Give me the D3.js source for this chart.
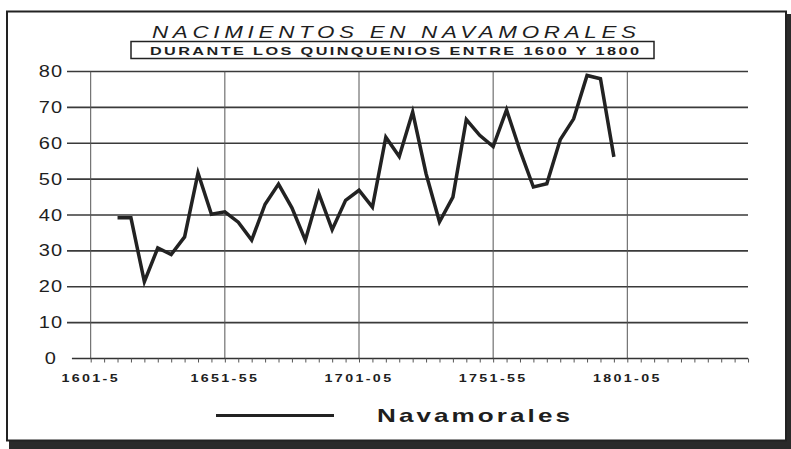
<!DOCTYPE html>
<html>
<head>
<meta charset="utf-8">
<script src="https://cdn.jsdelivr.net/npm/d3@7"></script>
<style>
  body { margin: 0; background: #fff; }
  text { font-family: "Liberation Sans", Arial, sans-serif; fill: #1e1e1e; }
</style>
</head>
<body>
<svg id="chart" width="791" height="449"></svg>
<script>
// quinquennia (first year of each 5-year period)
var years = [1611, 1616, 1621, 1626, 1631, 1636, 1641, 1646, 1651, 1656,
             1661, 1666, 1671, 1676, 1681, 1686, 1691, 1696, 1701, 1706,
             1711, 1716, 1721, 1726, 1731, 1736, 1741, 1746, 1751, 1756,
             1761, 1766, 1771, 1776, 1781, 1786, 1791, 1796];
var births = [39.2, 39.2, 21.4, 30.8, 29.0, 33.9, 51.7, 40.2, 40.9, 38.0,
              33.0, 43.0, 48.6, 42.0, 33.0, 46.0, 35.9, 44.1, 46.9, 42.2,
              61.7, 56.3, 68.7, 51.5, 38.1, 45.0, 66.6, 62.2, 59.1, 69.3,
              58.0, 47.8, 48.7, 61.0, 66.8, 78.9, 78.0, 56.2];
var labelYears = [1601, 1651, 1701, 1751, 1801];
var labelText = ["1601-5", "1651-55", "1701-05", "1751-55", "1801-05"];
var yTicks = [0, 10, 20, 30, 40, 50, 60, 70, 80];

var svg = d3.select("#chart");

// the scanned chart uses a horizontally stretched sans, so text is widened here
function wideText(g, tx, ty, str, sx, len) {
    var t = g.append("text")
        .attr("transform", "translate(" + tx + "," + ty + ") scale(" + sx + ",1)")
        .text(str);
    if (len) t.attr("textLength", len / sx).attr("lengthAdjust", "spacing");
    return t;
}

// page frame and shadow
svg.append("rect").attr("x", 0).attr("y", 0).attr("width", 791).attr("height", 449).attr("fill", "#fff");
svg.append("rect").attr("x", 786).attr("y", 14).attr("width", 5).attr("height", 435).attr("fill", "#2a2a2a");
svg.append("rect").attr("x", 9).attr("y", 441).attr("width", 782).attr("height", 8).attr("fill", "#2a2a2a");
svg.append("rect").attr("x", 7).attr("y", 11.5).attr("width", 779).attr("height", 429)
    .attr("fill", "none").attr("stroke", "#222").attr("stroke-width", 2);

var x = d3.scaleLinear().domain([1601, 1801]).range([90.7, 627.3]);
var y = d3.scaleLinear().domain([0, 80]).range([358.5, 71.5]);

// horizontal grid
svg.append("g").selectAll("line").data(yTicks.slice(1)).join("line")
    .attr("x1", 67).attr("x2", 748)
    .attr("y1", d => y(d)).attr("y2", d => y(d))
    .attr("stroke", "#3a3a3a").attr("stroke-width", 1.6);

// vertical grid
svg.append("g").selectAll("line").data(labelYears).join("line")
    .attr("x1", d => x(d)).attr("x2", d => x(d))
    .attr("y1", y(80)).attr("y2", y(0))
    .attr("stroke", "#555").attr("stroke-width", 1);

// x axis with a tick for every quinquennium
var allTicks = d3.range(1601, 1847, 5);
var xAxis = d3.axisBottom(x).tickValues(allTicks).tickSize(4).tickSizeOuter(0).tickFormat("");
var gx = svg.append("g").attr("transform", "translate(0," + y(0) + ")").call(xAxis);
gx.select(".domain").attr("d", "M" + x(1594) + ",0H" + x(1846)).attr("stroke", "#333").attr("stroke-width", 1.6);
gx.selectAll(".tick line").attr("stroke", "#555");

// category labels, centred on the 50-year grid lines
var gl = svg.append("g");
labelYears.forEach(function (yr, i) {
    wideText(gl, x(yr), 381.5, labelText[i], 1.3)
        .attr("text-anchor", "middle")
        .style("font-size", "11px").style("font-weight", "bold")
        .style("letter-spacing", "1.8px");
});

// y axis labels
var yAxis = d3.axisLeft(y).tickValues(yTicks).tickSize(0);
var gy = svg.append("g").attr("transform", "translate(51,0)").call(yAxis);
gy.select(".domain").remove();
gy.selectAll(".tick text").attr("x", 0).attr("text-anchor", "middle")
    .attr("transform", "scale(1.25,1)")
    .style("font-size", "16px").style("letter-spacing", "1px");

// data line
var line = d3.line().x((d, i) => x(years[i])).y(d => y(d));
svg.append("path").datum(births).attr("d", line)
    .attr("fill", "none").attr("stroke", "#222").attr("stroke-width", 3.5)
    .attr("stroke-linejoin", "miter");

// title
wideText(svg, 152, 37.5, "NACIMIENTOS EN NAVAMORALES", 1.4, 484)
    .style("font-size", "16px").style("font-style", "italic");
svg.append("rect").attr("x", 131).attr("y", 41.5).attr("width", 523).attr("height", 17)
    .attr("fill", "#fff").attr("stroke", "#222").attr("stroke-width", 1.5);
wideText(svg, 150, 54.5, "DURANTE LOS QUINQUENIOS ENTRE 1600 Y 1800", 1.55, 489)
    .style("font-size", "10.5px").style("font-weight", "bold");

// legend
svg.append("line").attr("x1", 216).attr("x2", 334).attr("y1", 415.5).attr("y2", 415.5)
    .attr("stroke", "#222").attr("stroke-width", 3);
wideText(svg, 377, 422, "Navamorales", 1.45, 193)
    .style("font-size", "18px").style("font-weight", "bold");
</script>
</body>
</html>
